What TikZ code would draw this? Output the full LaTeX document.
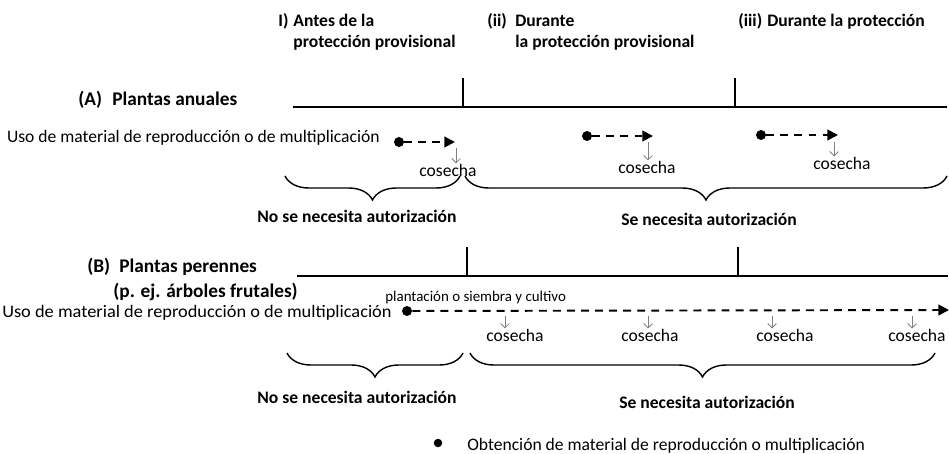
\documentclass[tikz,border=0pt]{standalone}
\usepackage{fontspec}
\setmainfont{Carlito}
\usetikzlibrary{arrows.meta,decorations.pathreplacing}
\begin{document}
\begin{tikzpicture}[x=0.02cm,y=-0.02cm]
	\tikzstyle{Head} = [anchor=base west, inner sep=0pt, font=\bfseries\fontsize{10}{11.4}\selectfont]
	\tikzstyle{Plant} = [anchor=base west, inner sep=0pt, font=\bfseries\fontsize{11}{12}\selectfont]
	\tikzstyle{Txt} = [inner sep=0pt, font=\fontsize{10}{12}\selectfont]
	\tikzstyle{Small} = [inner sep=0pt, font=\fontsize{8.5}{10}\selectfont]
	\tikzstyle{Need} = [inner sep=0pt, font=\bfseries\fontsize{10}{12}\selectfont]
	\tikzstyle{Dot} = [circle, fill=black, minimum size=0.2cm, inner sep=0pt]
	\tikzstyle{Use} = [dash pattern=on 4.5pt off 3.5pt, line width=1.1pt, -{Triangle[length=6pt,width=6pt]}]
	\tikzstyle{Harvest} = [gray, line width=0.5pt, -{Straight Barb[length=2.5pt,width=5pt]}]
	\tikzstyle{Time} = [line width=1pt]
	\tikzstyle{Brace} = [decorate, decoration={brace, mirror, amplitude=0.48cm}, line width=0.8pt]
	\useasboundingbox (0,0) rectangle (949,453);

	% column heads
	\node (h1n) at (278,27) [Head] {I)};
	\node (h1a) at (293,27) [Head] {Antes de la};
	\node (h1b) at (293,47) [Head] {protección provisional};
	\node (h2n) at (487,27) [Head] {(ii)};
	\node (h2a) at (515,27) [Head] {Durante};
	\node (h2b) at (515,47) [Head] {la protección provisional};
	\node (h3n) at (738,27) [Head] {(iii)};
	\node (h3a) at (767,27) [Head] {Durante la protección};

	% (A) annual plants
	\node (an) at (78,105) [Plant] {(A)};
	\node (at) at (112,105) [Plant] {Plantas anuales};
	\coordinate (a0) at (293,107);
	\coordinate (a1) at (463,107);
	\coordinate (a2) at (735,107);
	\coordinate (a3) at (947,107);
	\coordinate (a1t) at (463,78);
	\coordinate (a2t) at (735,78);
	\draw[Time] (a0) -- (a3);
	\draw[Time] (a1) -- (a1t);
	\draw[Time] (a2) -- (a2t);

	\node (usoA) at (380,138) [Txt, anchor=east] {Uso de material de reproducción o de multiplicación};
	\node (dA1) at (399,142) [Dot] {};
	\coordinate (eA1) at (455,142);
	\node (dA2) at (587,136) [Dot] {};
	\coordinate (eA2) at (653,136);
	\node (dA3) at (761,135) [Dot] {};
	\coordinate (eA3) at (838,135);
	\draw[Use] (dA1) -- (eA1);
	\draw[Use] (dA2) -- (eA2);
	\draw[Use] (dA3) -- (eA3);

	\node (cA1) at (448,170) [Txt] {cosecha};
	\node (cA2) at (647,167) [Txt] {cosecha};
	\node (cA3) at (842,163) [Txt] {cosecha};
	\coordinate (hA1) at (456,148);
	\coordinate (hA2) at (648,142);
	\coordinate (hA3) at (834,142);
	\draw[Harvest] (hA1) -- (hA1 |- cA1.north);
	\draw[Harvest] (hA2) -- (hA2 |- cA2.north);
	\draw[Harvest] (hA3) -- (hA3 |- cA3.north);

	\coordinate (bA0) at (285,176);
	\coordinate (bA1) at (460,176);
	\coordinate (bA2) at (465,176);
	\coordinate (bA3) at (947,176);
	\draw[Brace] (bA0) -- (bA1);
	\draw[Brace] (bA2) -- (bA3);
	\node (noA) at (357,216) [Need] {No se necesita autorización};
	\node (siA) at (709,219) [Need] {Se necesita autorización};

	% (B) perennial plants
	\node (bn) at (87,272) [Plant] {(B)};
	\node (bt) at (119,272) [Plant] {Plantas perennes};
	\node (be) at (113,297) [Plant] {(p. ej. árboles frutales)};
	\coordinate (b0) at (297,276);
	\coordinate (b1) at (467,276);
	\coordinate (b2) at (738,276);
	\coordinate (b3) at (948,276);
	\coordinate (b1t) at (467,247);
	\coordinate (b2t) at (738,247);
	\draw[Time] (b0) -- (b3);
	\draw[Time] (b1) -- (b1t);
	\draw[Time] (b2) -- (b2t);

	\node (plant) at (385,298) [Small, anchor=west] {plantación o siembra y cultivo};
	\node (usoB) at (392,313) [Txt, anchor=east, xscale=1.045] {Uso de material de reproducción o de multiplicación};
	\node (dB) at (407,311) [Dot] {};
	\coordinate (eB) at (949,310);
	\draw[Use] (dB) -- (eB);

	\node (cB1) at (515,335) [Txt] {cosecha};
	\node (cB2) at (650,335) [Txt] {cosecha};
	\node (cB3) at (785,335) [Txt] {cosecha};
	\node (cB4) at (917,335) [Txt] {cosecha};
	\coordinate (hB1) at (505,316);
	\coordinate (hB2) at (648,316);
	\coordinate (hB3) at (772,316);
	\coordinate (hB4) at (912,316);
	\draw[Harvest] (hB1) -- (hB1 |- cB1.north);
	\draw[Harvest] (hB2) -- (hB2 |- cB2.north);
	\draw[Harvest] (hB3) -- (hB3 |- cB3.north);
	\draw[Harvest] (hB4) -- (hB4 |- cB4.north);

	\coordinate (bB0) at (287,353);
	\coordinate (bB1) at (463,353);
	\coordinate (bB2) at (470,353);
	\coordinate (bB3) at (935,353);
	\draw[Brace] (bB0) -- (bB1);
	\draw[Brace] (bB2) -- (bB3);
	\node (noB) at (357,397) [Need] {No se necesita autorización};
	\node (siB) at (707,402) [Need] {Se necesita autorización};

	% legend
	\node (dL) at (438,443) [Dot, minimum size=0.17cm] {};
	\node (leg) at (467,446) [Txt, anchor=west] {Obtención de material de reproducción o multiplicación};
\end{tikzpicture}
\end{document}
